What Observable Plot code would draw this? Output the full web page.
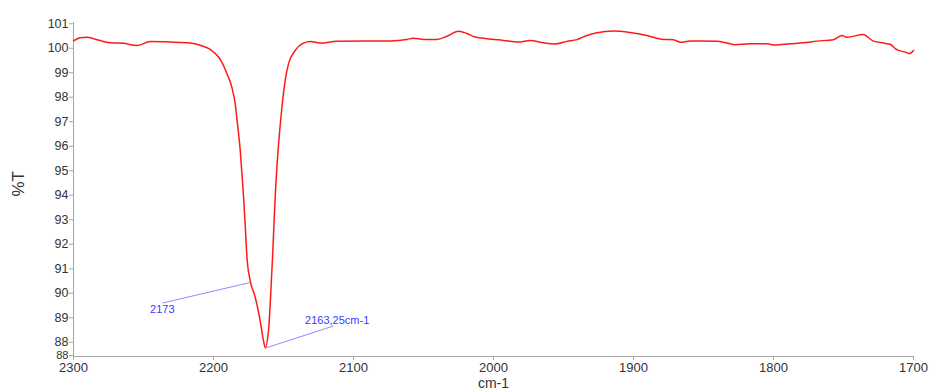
<!DOCTYPE html>
<html>
<head>
<meta charset="utf-8">
<script src="https://cdn.jsdelivr.net/npm/d3@7"></script>
<script src="https://cdn.jsdelivr.net/npm/@observablehq/plot@0.6"></script>
<style>
  html, body { margin: 0; padding: 0; background: #fff; }
  #chart svg { display: block; }
</style>
</head>
<body>
<div id="chart"></div>
<script>
// Spectrum: wavenumber (cm-1) and transmittance (%T)
const wavenumber = [
  2300, 2295.2, 2290, 2285.7, 2273.8, 2264.5, 2254.7, 2245.2, 2230.9, 2216.6,
  2209.5, 2202.4, 2196.4, 2194, 2190.4, 2186.9, 2184.5, 2182.9, 2180.9, 2179.7,
  2178.6, 2177.4, 2176.1, 2173.8, 2170.2, 2167.1, 2164.3, 2163.1, 2160.7, 2159.0,
  2157.6, 2156.6, 2155.7, 2154.7, 2152.9, 2151.1, 2148.8, 2146.4, 2141.6, 2135.7,
  2130.9, 2123.8, 2111.9, 2090.4, 2073.8, 2061.9, 2057.1, 2050, 2040.4, 2033.3,
  2025, 2019, 2014.3, 2004.7, 1992.9, 1982.1, 1973.8, 1964.3, 1955.9, 1947.6,
  1940.4, 1933.3, 1926.1, 1914.3, 1902.4, 1890.4, 1878.6, 1871.4, 1866.6, 1859.5,
  1852.4, 1840.4, 1833.3, 1827.4, 1816.7, 1804.7, 1798.8, 1788.1, 1778.6, 1769,
  1757.1, 1751.1, 1747.6, 1735.7, 1733.3, 1728.6, 1721.4, 1716.7, 1711.9, 1704.7,
  1702.9, 1700
];
const transmittance = [
  100.30, 100.43, 100.45, 100.39, 100.22, 100.20, 100.11, 100.27, 100.25, 100.21,
  100.12, 99.95, 99.64, 99.42, 98.96, 98.41, 97.73, 96.92, 95.83, 94.88,
  94.00, 92.84, 91.47, 90.52, 89.84, 89.02, 88.07, 87.78, 88.48, 90.11,
  91.75, 93.10, 94.20, 95.15, 96.51, 97.60, 98.69, 99.37, 99.91, 100.21,
  100.27, 100.21, 100.28, 100.29, 100.30, 100.36, 100.41, 100.36, 100.36, 100.49,
  100.69, 100.60, 100.48, 100.39, 100.32, 100.25, 100.32, 100.22, 100.17, 100.28,
  100.35, 100.52, 100.63, 100.70, 100.64, 100.52, 100.36, 100.35, 100.24, 100.29,
  100.29, 100.28, 100.21, 100.14, 100.18, 100.18, 100.13, 100.18, 100.22, 100.29,
  100.35, 100.52, 100.45, 100.56, 100.48, 100.29, 100.21, 100.16, 99.94, 99.82,
  99.78, 99.91
];

// Axis ticks
const xTicks = [2300, 2200, 2100, 2000, 1900, 1800, 1700];
const yMin = 87.42, yMax = 101.05;
const yTicks = [88, 89, 90, 91, 92, 93, 94, 95, 96, 97, 98, 99, 100, 101];
const yTickLabels = ["88", "89", "90", "91", "92", "93", "94", "95", "96", "97", "98", "99", "100", "101"];
const yMinLabel = "88";

// Peak annotations: point on curve, line end, label position, label text
const annoLabel = ["2173", "2163,25cm-1"];
const annoPeakX = [2173.8, 2163.1];
const annoPeakY = [90.44, 87.76];
const annoEndX = [2236.6, 2114.5];
const annoEndY = [89.60, 88.66];
const annoTextX = [2236.6, 2134.6];
const annoTextY = [89.32, 88.89];

const spectrum = wavenumber.map((w, i) => ({w, t: transmittance[i]}));
const annos = annoLabel.map((label, i) => ({
  label, px: annoPeakX[i], py: annoPeakY[i], ex: annoEndX[i], ey: annoEndY[i],
  tx: annoTextX[i], ty: annoTextY[i]
}));

const axisColor = "#a6a6a6";
const textColor = "#333333";

const chart = Plot.plot({
  width: 930,
  height: 392,
  marginLeft: 73,
  marginRight: 17,
  marginTop: 22,
  marginBottom: 36,
  style: {fontFamily: "'Liberation Sans', Arial, sans-serif", background: "#fff"},
  x: {domain: [2300, 1700], label: null},
  y: {domain: [yMin, yMax], label: null},
  marks: [
    Plot.ruleY([yMin], {stroke: axisColor, strokeWidth: 1}),
    Plot.ruleX([2300], {stroke: axisColor, strokeWidth: 1}),
    Plot.axisX({ticks: xTicks, tickFormat: d => String(d), tickSize: 4, tickPadding: 2, stroke: axisColor, fill: textColor, fontSize: 13, label: null}),
    Plot.axisY({ticks: yTicks, tickFormat: d => yTickLabels[yTicks.indexOf(d)], tickSize: 4, tickPadding: 1, stroke: axisColor, fill: textColor, fontSize: 12.5, label: null}),
    Plot.axisY({ticks: [yMin], tickFormat: () => yMinLabel, tickSize: 4, tickPadding: 1, dy: -1, stroke: axisColor, fill: textColor, fontSize: 11, label: null}),
    Plot.line(spectrum, {x: "w", y: "t", stroke: "#ff1a1a", strokeWidth: 1.5, curve: "monotone-x"}),
    Plot.link(annos, {x1: "px", y1: "py", x2: "ex", y2: "ey", stroke: "#8c8cff", strokeWidth: 1}),
    Plot.text(annos.slice(0, 1), {x: "tx", y: "ty", text: "label", textAnchor: "middle", fill: "#3a3aff", fontSize: 11}),
    Plot.text(annos.slice(1), {x: "tx", y: "ty", text: "label", textAnchor: "start", fill: "#3a3aff", fontSize: 11}),
    Plot.text(["cm-1"], {frameAnchor: "bottom", dy: 31.5, fill: textColor, fontSize: 14}),
    Plot.text(["%T"], {frameAnchor: "left", dx: -55, dy: 7, rotate: -90, fill: textColor, fontSize: 17})
  ]
});
document.getElementById("chart").appendChild(chart);
</script>
</body>
</html>
